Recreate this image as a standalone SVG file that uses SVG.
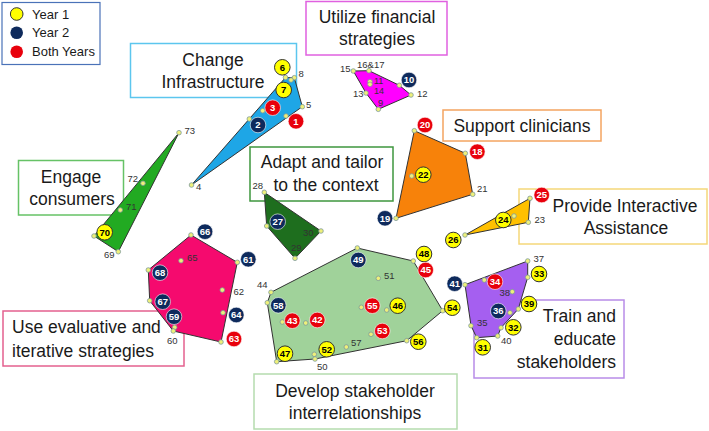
<svg xmlns="http://www.w3.org/2000/svg" width="709" height="431" viewBox="0 0 709 431">
<style>
.box{fill:#fff;stroke-width:1.5}
.t{font-family:"Liberation Sans",Arial,sans-serif;font-size:17.5px;fill:#1a1a1a;text-anchor:middle}
.poly{stroke:#333;stroke-width:1}
.pt{fill:#eef07a;stroke:#7f9a9a;stroke-width:0.8}
.lbl{font-family:"Liberation Sans",Arial,sans-serif;font-size:9.5px;fill:#333}
.cy{fill:#ffff00;stroke:#333;stroke-width:1}
.cn{fill:#0e2a5c;stroke:#fff;stroke-width:0.6}
.cr{fill:#e8000c;stroke:#fff;stroke-width:0.6}
.ct{font-family:"Liberation Sans",Arial,sans-serif;font-size:9.5px;font-weight:bold;text-anchor:middle}
.ctd{fill:#000}
.ctw{fill:#fff}
.leg{font-family:"Liberation Sans",Arial,sans-serif;font-size:13px;fill:#1a1a1a}
</style>
<g id="legend">
<rect x="2" y="2.5" width="98" height="62" fill="#fff" stroke="#4a72b8" stroke-width="1.2"/>
<circle cx="16.7" cy="14" r="6.3" class="cy"/>
<circle cx="16.7" cy="32.7" r="6.3" fill="#0e2a5c"/>
<circle cx="16.7" cy="51.7" r="6.3" fill="#e8000c"/>
<text class="leg" x="32" y="18.5">Year 1</text>
<text class="leg" x="32" y="37">Year 2</text>
<text class="leg" x="32" y="56">Both Years</text>
</g>
<g id="engage-consumers">
<rect class="box" x="18.5" y="160.5" width="105" height="54.5" stroke="#66c266"/>
<text class="t" x="71" y="183">Engage</text>
<text class="t" x="72" y="205">consumers</text>
<polygon class="poly" fill="#22aa22" points="179,132.7 118.3,251.7 94,236"/>
<g class="pt"><circle cx="179" cy="132.7" r="2.3"/><circle cx="143" cy="183.3" r="2.3"/><circle cx="120.3" cy="210" r="2.3"/><circle cx="94" cy="236" r="2.3"/><circle cx="118.3" cy="251.7" r="2.3"/></g>
<text class="lbl" x="184.5" y="134">73</text>
<text class="lbl" x="127.5" y="182">72</text>
<text class="lbl" x="126" y="210">71</text>
<text class="lbl" x="104" y="258">69</text>
<circle class="cy" cx="104.7" cy="232.3" r="7.8"/><text class="ct ctd" x="104.7" y="235.7">70</text>
</g>
<g id="change-infrastructure">
<rect class="box" x="130.5" y="43.5" width="166" height="54" stroke="#5cc6ee"/>
<text class="t" x="213" y="66">Change</text>
<text class="t" x="213" y="88">Infrastructure</text>
<polygon class="poly" fill="#1ea6e6" points="191.5,185 285.5,77.5 294.3,77.7 302.3,106.7"/>
<g class="pt"><circle cx="191.5" cy="185" r="2.3"/><circle cx="285.5" cy="77.5" r="2.3"/><circle cx="294.3" cy="77.7" r="2.3"/><circle cx="291" cy="80" r="2.3"/><circle cx="302.3" cy="106.7" r="2.3"/><circle cx="249.3" cy="119" r="2.3"/><circle cx="262.7" cy="110.7" r="2.3"/><circle cx="286" cy="116" r="2.3"/></g>
<text class="lbl" x="298.5" y="77">8</text>
<text class="lbl" x="306" y="108">5</text>
<text class="lbl" x="196" y="190">4</text>
<circle class="cy" cx="282.3" cy="67.3" r="7.8"/><text class="ct ctd" x="282.3" y="70.7">6</text>
<circle class="cy" cx="283.7" cy="90" r="7.8"/><text class="ct ctd" x="283.7" y="93.4">7</text>
<circle class="cr" cx="272.7" cy="107.7" r="7.8"/><text class="ct ctw" x="272.7" y="111.1">3</text>
<circle class="cn" cx="258" cy="125" r="7.8"/><text class="ct ctw" x="258" y="128.4">2</text>
<circle class="cr" cx="296" cy="121.3" r="7.8"/><text class="ct ctw" x="296" y="124.7">1</text>
</g>
<g id="utilize-financial-strategies">
<rect class="box" x="306" y="1.5" width="141" height="53.5" stroke="#e060e0"/>
<text class="t" x="377" y="23">Utilize financial</text>
<text class="t" x="377" y="45">strategies</text>
<polygon class="poly" fill="#ff00ff" points="353.3,71 369,70.7 399.3,85.3 411,95 378.3,109.3 366,93"/>
<g class="pt"><circle cx="353.3" cy="71" r="2.3"/><circle cx="369" cy="70.7" r="2.3"/><circle cx="370" cy="81.7" r="2.3"/><circle cx="370" cy="84.3" r="2.3"/><circle cx="366" cy="93" r="2.3"/><circle cx="378.3" cy="109.3" r="2.3"/><circle cx="411" cy="95" r="2.3"/><circle cx="399.3" cy="85.3" r="2.3"/></g>
<text class="lbl" x="340" y="72">15</text>
<text class="lbl" x="357" y="67.5">16&amp;17</text>
<text class="lbl" x="374" y="84" fill="#6b106b" style="font-size:9px">11</text>
<text class="lbl" x="374" y="94" fill="#6b106b" style="font-size:9px">14</text>
<text class="lbl" x="353" y="96.5">13</text>
<text class="lbl" x="378" y="106" fill="#6b106b">9</text>
<text class="lbl" x="417" y="96.5">12</text>
<circle class="cn" cx="409" cy="80" r="7.8"/><text class="ct ctw" x="409" y="83.4">10</text>
</g>
<g id="support-clinicians">
<rect class="box" x="443" y="110" width="158" height="31" stroke="#f4a460"/>
<text class="t" x="522" y="131.5">Support clinicians</text>
<polygon class="poly" fill="#f7820a" points="414.3,130.7 465.3,153.3 472.7,194.3 396,218.3"/>
<g class="pt"><circle cx="414.3" cy="130.7" r="2.3"/><circle cx="465.3" cy="153.3" r="2.3"/><circle cx="472.7" cy="194.3" r="2.3"/><circle cx="396" cy="218.3" r="2.3"/><circle cx="411.7" cy="176" r="2.3"/></g>
<text class="lbl" x="477" y="192">21</text>
<circle class="cr" cx="425" cy="125" r="7.8"/><text class="ct ctw" x="425" y="128.4">20</text>
<circle class="cr" cx="477.3" cy="151.7" r="7.8"/><text class="ct ctw" x="477.3" y="155.1">18</text>
<circle class="cy" cx="423.3" cy="174.7" r="7.8"/><text class="ct ctd" x="423.3" y="178.1">22</text>
<circle class="cn" cx="385" cy="218.3" r="7.8"/><text class="ct ctw" x="385" y="221.7">19</text>
</g>
<g id="provide-interactive-assistance">
<rect class="box" x="519" y="189" width="188" height="55" stroke="#f5d77a"/>
<text class="t" x="625" y="212">Provide Interactive</text>
<text class="t" x="626" y="234">Assistance</text>
<polygon class="poly" fill="#ffc000" points="530,198.3 528.3,222.3 465,235"/>
<g class="pt"><circle cx="530" cy="198.3" r="2.3"/><circle cx="528.3" cy="222.3" r="2.3"/><circle cx="465" cy="235" r="2.3"/><circle cx="514" cy="216" r="2.3"/></g>
<text class="lbl" x="534.5" y="223">23</text>
<circle class="cr" cx="541.7" cy="195" r="7.8"/><text class="ct ctw" x="541.7" y="198.4">25</text>
<circle class="cy" cx="503.3" cy="220" r="7.8"/><text class="ct ctd" x="503.3" y="223.4">24</text>
<circle class="cy" cx="453.3" cy="240" r="7.8"/><text class="ct ctd" x="453.3" y="243.4">26</text>
</g>
<g id="adapt-and-tailor">
<rect class="box" x="250" y="147" width="143" height="54" stroke="#3e963e"/>
<text class="t" x="322" y="168">Adapt and tailor</text>
<text class="t" x="326" y="191">to the context</text>
<polygon class="poly" fill="#1e6e1e" points="264.3,192.3 321,231 295,258.3 266.7,226"/>
<g class="pt"><circle cx="264.3" cy="192.3" r="2.3"/><circle cx="266.7" cy="226" r="2.3"/><circle cx="321" cy="231" r="2.3"/><circle cx="295" cy="258.3" r="2.3"/></g>
<text class="lbl" x="252.5" y="189">28</text>
<text class="lbl" x="303" y="236" fill="#0f2a0f">30</text>
<text class="lbl" x="291" y="250.5" fill="#0f2a0f">29</text>
<circle class="cn" cx="277.7" cy="221.7" r="7.8"/><text class="ct ctw" x="277.7" y="225.1">27</text>
</g>
<g id="use-evaluative-and-iterative-strategies">
<rect class="box" x="3" y="311" width="181" height="55" stroke="#e4608e"/>
<text class="t" x="12" y="333" style="text-anchor:start">Use evaluative and</text>
<text class="t" x="12" y="357" style="text-anchor:start">iterative strategies</text>
<polygon class="poly" fill="#f50a6e" points="191,235 237.3,262.3 221,342 173.3,331 149.7,300.7 148.3,270"/>
<g class="pt"><circle cx="191" cy="235" r="2.3"/><circle cx="237.3" cy="262.3" r="2.3"/><circle cx="181" cy="260.7" r="2.3"/><circle cx="148.3" cy="270" r="2.3"/><circle cx="222.3" cy="290" r="2.3"/><circle cx="149.7" cy="300.7" r="2.3"/><circle cx="223" cy="312.7" r="2.3"/><circle cx="174.7" cy="327.3" r="2.3"/><circle cx="173.3" cy="331" r="2.3"/><circle cx="221" cy="342" r="2.3"/></g>
<text class="lbl" x="187" y="261" fill="#5a0a2a">65</text>
<text class="lbl" x="233.5" y="295">62</text>
<text class="lbl" x="167" y="343.5">60</text>
<circle class="cn" cx="205" cy="231.7" r="7.8"/><text class="ct ctw" x="205" y="235.1">66</text>
<circle class="cn" cx="248.3" cy="259.3" r="7.8"/><text class="ct ctw" x="248.3" y="262.7">61</text>
<circle class="cn" cx="160" cy="272.7" r="7.8"/><text class="ct ctw" x="160" y="276.1">68</text>
<circle class="cn" cx="162.7" cy="301.7" r="7.8"/><text class="ct ctw" x="162.7" y="305.1">67</text>
<circle class="cn" cx="174" cy="316.7" r="7.8"/><text class="ct ctw" x="174" y="320.1">59</text>
<circle class="cn" cx="236.3" cy="315" r="7.8"/><text class="ct ctw" x="236.3" y="318.4">64</text>
<circle class="cr" cx="234" cy="339" r="7.8"/><text class="ct ctw" x="234" y="342.4">63</text>
</g>
<g id="develop-stakeholder-interrelationships">
<rect class="box" x="254" y="374" width="203" height="55" stroke="#b5dcae"/>
<text class="t" x="355" y="397">Develop stakeholder</text>
<text class="t" x="355" y="418.5">interrelationships</text>
<polygon class="poly" fill="#a0d29a" points="357.3,248 413.3,261 442.7,310.7 406.7,340.7 315,359 276.7,361.7 267.3,302.7 271,292.3"/>
<g class="pt"><circle cx="357.3" cy="248" r="2.3"/><circle cx="413.3" cy="261" r="2.3"/><circle cx="378.3" cy="278.3" r="2.3"/><circle cx="271" cy="292.3" r="2.3"/><circle cx="267.3" cy="302.7" r="2.3"/><circle cx="361.3" cy="307.3" r="2.3"/><circle cx="386.7" cy="310" r="2.3"/><circle cx="442.7" cy="310.7" r="2.3"/><circle cx="282.3" cy="322" r="2.3"/><circle cx="305.7" cy="323" r="2.3"/><circle cx="371" cy="334.3" r="2.3"/><circle cx="406.7" cy="340.7" r="2.3"/><circle cx="346.3" cy="347" r="2.3"/><circle cx="314.3" cy="354.3" r="2.3"/><circle cx="315" cy="359" r="2.3"/><circle cx="276.7" cy="361.7" r="2.3"/></g>
<text class="lbl" x="257" y="288">44</text>
<text class="lbl" x="384" y="279" fill="#223a22">51</text>
<text class="lbl" x="351" y="345.5" fill="#223a22">57</text>
<text class="lbl" x="317" y="370">50</text>
<circle class="cn" cx="358.3" cy="260" r="7.8"/><text class="ct ctw" x="358.3" y="263.4">49</text>
<circle class="cy" cx="424" cy="254" r="7.8"/><text class="ct ctd" x="424" y="257.4">48</text>
<circle class="cr" cx="425.7" cy="270" r="7.8"/><text class="ct ctw" x="425.7" y="273.4">45</text>
<circle class="cn" cx="278.3" cy="305.3" r="7.8"/><text class="ct ctw" x="278.3" y="308.7">58</text>
<circle class="cr" cx="292.3" cy="320.7" r="7.8"/><text class="ct ctw" x="292.3" y="324.1">43</text>
<circle class="cr" cx="317.3" cy="320" r="7.8"/><text class="ct ctw" x="317.3" y="323.4">42</text>
<circle class="cr" cx="372.3" cy="305.7" r="7.8"/><text class="ct ctw" x="372.3" y="309.1">55</text>
<circle class="cy" cx="397.7" cy="305.7" r="7.8"/><text class="ct ctd" x="397.7" y="309.1">46</text>
<circle class="cr" cx="382.3" cy="331" r="7.8"/><text class="ct ctw" x="382.3" y="334.4">53</text>
<circle class="cy" cx="285" cy="353.7" r="7.8"/><text class="ct ctd" x="285" y="357.1">47</text>
<circle class="cy" cx="326.7" cy="349.3" r="7.8"/><text class="ct ctd" x="326.7" y="352.7">52</text>
<circle class="cy" cx="418.3" cy="341.7" r="7.8"/><text class="ct ctd" x="418.3" y="345.1">56</text>
<circle class="cy" cx="452.3" cy="307.7" r="7.8"/><text class="ct ctd" x="452.3" y="311.1">54</text>
</g>
<g id="train-and-educate-stakeholders">
<rect class="box" x="474" y="300" width="150" height="78" stroke="#b88ce8"/>
<text class="t" x="616" y="322" style="text-anchor:end">Train and</text>
<text class="t" x="616" y="345" style="text-anchor:end">educate</text>
<text class="t" x="616" y="368" style="text-anchor:end">stakeholders</text>
<polygon class="poly" fill="#a55ff0" points="465,284.7 527.7,261 527.7,277.3 518.3,309 501,327.7 497.7,336 476.7,337.7 471,325.7"/>
<g class="pt"><circle cx="527.7" cy="261" r="2.3"/><circle cx="527.7" cy="277.3" r="2.3"/><circle cx="465" cy="284.7" r="2.3"/><circle cx="484.3" cy="280" r="2.3"/><circle cx="512.3" cy="291.7" r="2.3"/><circle cx="518.3" cy="309" r="2.3"/><circle cx="510" cy="312.7" r="2.3"/><circle cx="501" cy="327.7" r="2.3"/><circle cx="497.7" cy="336" r="2.3"/><circle cx="476.7" cy="337.7" r="2.3"/><circle cx="471" cy="325.7" r="2.3"/></g>
<text class="lbl" x="533.5" y="261.5">37</text>
<text class="lbl" x="499.5" y="296" fill="#3a1a5a">38</text>
<text class="lbl" x="477" y="326" fill="#3a1a5a">35</text>
<text class="lbl" x="501" y="344">40</text>
<circle class="cn" cx="454.7" cy="283.7" r="7.8"/><text class="ct ctw" x="454.7" y="287.1">41</text>
<circle class="cy" cx="539" cy="274" r="7.8"/><text class="ct ctd" x="539" y="277.4">33</text>
<circle class="cr" cx="495" cy="281.7" r="7.8"/><text class="ct ctw" x="495" y="285.1">34</text>
<circle class="cn" cx="498.3" cy="311" r="7.8"/><text class="ct ctw" x="498.3" y="314.4">36</text>
<circle class="cy" cx="529" cy="304" r="7.8"/><text class="ct ctd" x="529" y="307.4">39</text>
<circle class="cy" cx="513.3" cy="327.3" r="7.8"/><text class="ct ctd" x="513.3" y="330.7">32</text>
<circle class="cy" cx="482.7" cy="347.3" r="7.8"/><text class="ct ctd" x="482.7" y="350.7">31</text>
</g>
<g id="connectors"></g>
</svg>
